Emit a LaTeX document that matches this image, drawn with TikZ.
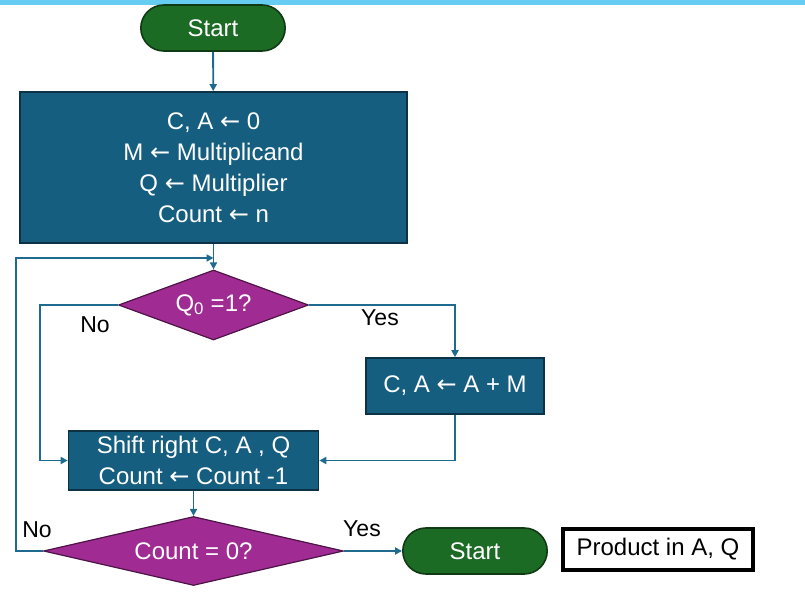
\documentclass[tikz,border=0pt]{standalone}
\usepackage{fontspec}
\setmainfont{Liberation Sans}
\newfontfamily\arrowfont{DejaVu Sans}
\newcommand\getsarrow{{\arrowfont ←}}
\usetikzlibrary{shapes.geometric,shapes.misc,arrows.meta}
\definecolor{procfill}{HTML}{165E80}
\definecolor{procedge}{HTML}{0D3145}
\definecolor{testfill}{HTML}{A02B93}
\definecolor{testedge}{HTML}{4D1446}
\definecolor{termfill}{HTML}{1B6B24}
\definecolor{termedge}{HTML}{0F3A14}
\definecolor{flowline}{HTML}{1F6A8F}
\definecolor{topbar}{HTML}{66CCF2}
\tikzset{
  process/.style={draw=procedge, fill=procfill, line width=1.6pt, text=white, align=center, inner sep=0pt, font=\fontsize{24}{31}\selectfont},
  decision/.style={diamond, draw=testedge, fill=testfill, line width=1.2pt, text=white, inner sep=1pt, aspect=3, font=\fontsize{24}{28}\selectfont},
  terminal/.style={rounded rectangle, draw=termedge, fill=termfill, line width=1.6pt, text=white, minimum width=151pt, minimum height=46pt, font=\fontsize{24}{28}\selectfont},
  result/.style={draw=black, line width=3.5pt, minimum width=190pt, minimum height=41pt, font=\fontsize{24}{28}\selectfont},
  branch/.style={text=black, font=\fontsize{23}{26}\selectfont},
  flow/.style={draw=flowline, line width=1.8pt, -{Triangle[length=7pt,width=7pt]}}
}
\begin{document}
\begin{tikzpicture}[x=1pt, y=-1pt]
  \useasboundingbox (0,0) rectangle (805,601);
  \fill[topbar] (0,0) rectangle (805,5);
  % blocks
  \node[terminal] (start) at (213,28) {Start};
  \node[process, minimum width=387pt, minimum height=151pt] (init) at (213.5,167.5)
    {C, A \getsarrow{} 0\\M \getsarrow{} Multiplicand\\Q \getsarrow{} Multiplier\\Count \getsarrow{} n};
  \node[decision, minimum width=190pt, minimum height=70pt] (test) at (213.5,305) {Q\textsubscript{0} =1?};
  \node[process, minimum width=178pt, minimum height=56pt] (add) at (455,386) {C, A \getsarrow{} A + M};
  \node[process, minimum width=250pt, minimum height=59pt] (shift) at (193.5,460.5)
    {Shift right C, A , Q\\Count \getsarrow{} Count -1};
  \node[decision, minimum width=300pt, minimum height=69pt] (done) at (193.5,551) {Count = 0?};
  \node[terminal] (stop) at (475,551) {Start};
  \node[result] (prod) at (658,549.5) {Product in A, Q};
  % branch labels
  \node[branch] (testno) at (95,325) {No};
  \node[branch] (testyes) at (380,318) {Yes};
  \node[branch] (doneno) at (37,530) {No};
  \node[branch] (doneyes) at (362,529) {Yes};
  % connectors
  \coordinate (loop) at (213.5,258);
  \draw[flow] (start) -- (init);
  \draw[flow] (init) -- (test);
  \draw[flow] (test.west) -- ++(-78,0) |- (shift.west);
  \draw[flow] (test.east) -| (add.north);
  \draw[flow] (add.south) |- (shift.east);
  \draw[flow] (shift) -- (done);
  \draw[flow] (done.west) -- ++(-27,0) |- (loop);
  \draw[flow] (done.east) -- (stop.west);
\end{tikzpicture}
\end{document}
